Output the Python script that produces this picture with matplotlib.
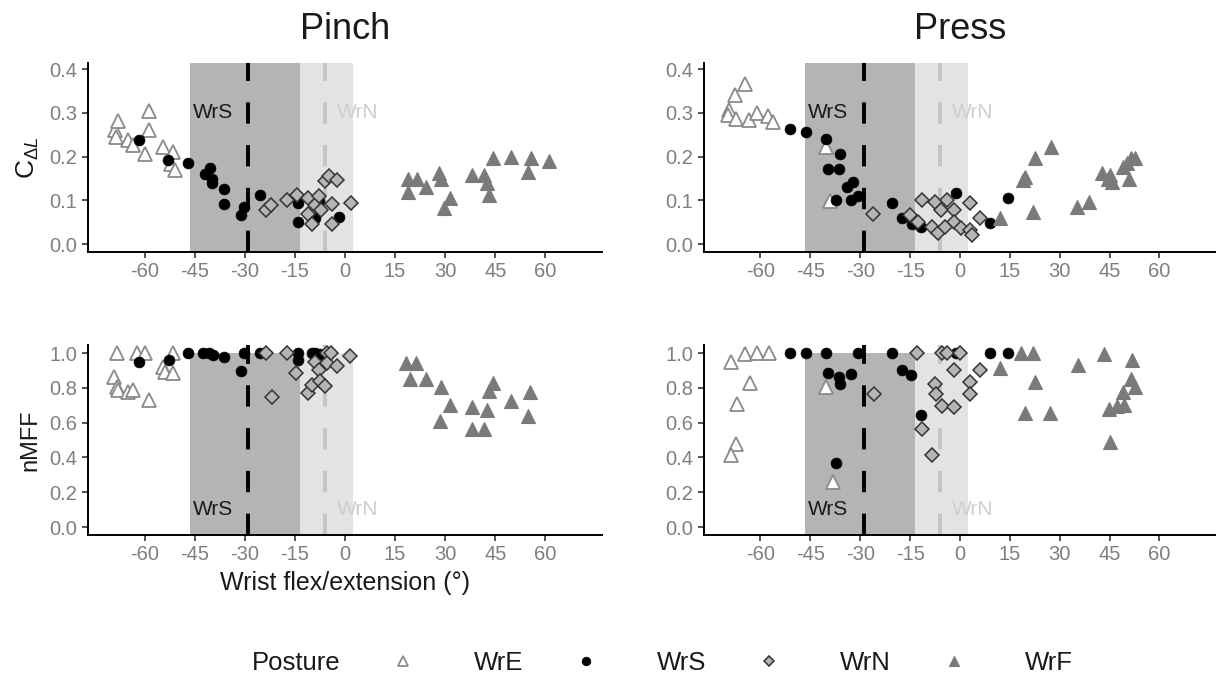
import matplotlib
matplotlib.use("Agg")
import matplotlib.pyplot as plt
from matplotlib.lines import Line2D

plt.rcParams['font.family'] = ['Liberation Sans', 'DejaVu Sans']
plt.rcParams['mathtext.fontset'] = 'custom'
plt.rcParams['mathtext.rm'] = 'Liberation Sans'
plt.rcParams['mathtext.it'] = 'Liberation Sans:italic'
plt.rcParams['axes.unicode_minus'] = False

# ---- data (wrist angle in deg, outcome value) ----
# Pinch, C_dL
pinch_cdl_wre_x = [-68.9, -68.0, -68.6, -64.9, -63.4, -59.9, -58.6, -58.6, -54.6, -51.5, -52.0, -51.0]
pinch_cdl_wre_y = [0.260, 0.282, 0.245, 0.239, 0.226, 0.206, 0.304, 0.260, 0.222, 0.211, 0.184, 0.169]
pinch_cdl_wrs_x = [-61.6, -53.0, -47.0, -41.9, -40.4, -39.8, -39.8, -36.3, -36.3, -31.3, -30.3, -25.6,
                   -14.2, -14.2, -8.9, -7.7, -1.8]
pinch_cdl_wrs_y = [0.237, 0.192, 0.186, 0.160, 0.173, 0.150, 0.139, 0.127, 0.092, 0.066, 0.085, 0.112,
                   0.093, 0.051, 0.059, 0.099, 0.061]
pinch_cdl_wrn_x = [-23.6, -22.1, -17.3, -14.5, -11.0, -11.0, -10.0, -9.1, -7.7, -7.1, -5.9, -4.7,
                   -3.9, -3.9, -2.4, 1.8]
pinch_cdl_wrn_y = [0.079, 0.089, 0.101, 0.112, 0.105, 0.070, 0.047, 0.089, 0.110, 0.078, 0.145, 0.156,
                   0.092, 0.047, 0.147, 0.095]
pinch_cdl_wrf_x = [18.9, 18.9, 21.6, 24.2, 28.3, 28.7, 29.5, 31.3, 38.1, 41.7, 42.5, 43.1, 44.3,
                   49.6, 55.8, 54.9, 61.0]
pinch_cdl_wrf_y = [0.150, 0.120, 0.150, 0.131, 0.162, 0.150, 0.082, 0.105, 0.158, 0.158, 0.139, 0.112,
                   0.196, 0.200, 0.196, 0.166, 0.189]

# Press, C_dL
press_cdl_wre_x = [-69.4, -69.7, -67.7, -64.7, -67.4, -63.4, -61.0, -57.7, -56.2, -40.2, -39.0]
press_cdl_wre_y = [0.306, 0.295, 0.341, 0.367, 0.287, 0.283, 0.299, 0.293, 0.280, 0.223, 0.099]
press_cdl_wrs_x = [-51.0, -46.4, -40.4, -36.1, -39.8, -36.3, -34.0, -32.3, -37.2, -32.9, -30.6, -20.5,
                   -17.3, -14.4, -11.8, -1.1, 9.0, 14.4]
press_cdl_wrs_y = [0.263, 0.257, 0.240, 0.206, 0.171, 0.171, 0.131, 0.143, 0.101, 0.101, 0.111, 0.095,
                   0.059, 0.047, 0.040, 0.116, 0.049, 0.105]
press_cdl_wrn_x = [-26.2, -15.0, -12.7, -11.3, -8.3, -7.5, -6.7, -5.8, -4.0, -1.7, -1.7, -4.6,
                   0.2, 2.9, 2.9, 3.5, 6.0]
press_cdl_wrn_y = [0.068, 0.066, 0.051, 0.101, 0.040, 0.097, 0.026, 0.078, 0.101, 0.079, 0.051, 0.040,
                   0.036, 0.093, 0.032, 0.021, 0.059]
press_cdl_wrf_x = [12.1, 19.0, 19.6, 21.9, 22.5, 27.5, 35.2, 38.7, 42.7, 44.4, 45.0, 45.6, 49.0,
                   50.2, 51.4, 52.5, 50.8]
press_cdl_wrf_y = [0.059, 0.147, 0.154, 0.074, 0.196, 0.223, 0.085, 0.097, 0.162, 0.150, 0.158, 0.143,
                   0.177, 0.185, 0.196, 0.196, 0.150]

# Pinch, nMFF
pinch_mff_wre_x = [-68.2, -62.4, -59.9, -51.6, -69.2, -68.2, -68.0, -64.9, -63.4, -58.6, -54.6, -53.9, -51.5]
pinch_mff_wre_y = [1.000, 1.000, 1.000, 1.000, 0.864, 0.803, 0.790, 0.778, 0.787, 0.730, 0.921, 0.893, 0.883]
pinch_mff_wrs_x = [-61.6, -52.7, -47.0, -42.5, -40.7, -39.5, -36.2, -31.3, -30.3, -25.6, -14.2, -14.2,
                   -10.0, -8.9, -7.4]
pinch_mff_wrs_y = [0.950, 0.960, 1.000, 1.000, 1.000, 0.987, 0.980, 0.897, 1.000, 1.000, 1.000, 0.962,
                   1.000, 1.000, 0.996]
pinch_mff_wrn_x = [-23.6, -21.8, -17.3, -14.7, -11.2, -10.0, -9.1, -7.7, -7.4, -5.9, -5.5, -5.3,
                   -4.1, -2.4, 1.5]
pinch_mff_wrn_y = [1.000, 0.748, 1.000, 0.885, 0.771, 0.815, 0.948, 0.905, 0.840, 0.809, 1.000, 0.943,
                   1.000, 0.924, 0.981]
pinch_mff_wrf_x = [18.3, 21.2, 19.5, 24.2, 28.9, 31.3, 28.4, 38.1, 38.1, 41.7, 42.5, 43.1, 44.3,
                   49.6, 55.5, 54.9]
pinch_mff_wrf_y = [0.943, 0.943, 0.853, 0.853, 0.802, 0.700, 0.611, 0.687, 0.561, 0.561, 0.672, 0.782,
                   0.828, 0.725, 0.777, 0.637]

# Press, nMFF
press_mff_wre_x = [-69.0, -64.6, -60.9, -57.5, -63.2, -67.2, -67.5, -69.0, -40.2, -38.3]
press_mff_wre_y = [0.948, 0.992, 1.000, 1.000, 0.828, 0.706, 0.477, 0.414, 0.805, 0.261]
press_mff_wrs_x = [-51.0, -46.4, -40.4, -39.8, -36.3, -36.0, -32.9, -30.6, -37.2, -20.5, -17.5, -14.8,
                   -11.8, -1.1, 9.0, 14.4]
press_mff_wrs_y = [1.000, 1.000, 1.000, 0.885, 0.863, 0.821, 0.878, 1.000, 0.370, 1.000, 0.905, 0.872,
                   0.643, 1.000, 1.000, 1.000]
press_mff_wrn_x = [-26.0, -13.0, -11.3, -8.3, -7.5, -7.1, -5.5, -5.5, -4.0, -1.7, -1.7, 0.0,
                   2.9, 2.9, 6.0]
press_mff_wrn_y = [0.767, 1.000, 0.561, 0.414, 0.824, 0.763, 1.000, 0.695, 1.000, 0.691, 0.905, 1.000,
                   0.834, 0.763, 0.905]
press_mff_wrf_x = [12.1, 18.5, 21.9, 22.5, 19.6, 27.1, 35.5, 43.3, 44.8, 45.0, 47.1, 49.4, 49.0,
                   51.4, 51.7, 52.5]
press_mff_wrf_y = [0.916, 1.000, 1.000, 0.834, 0.656, 0.656, 0.929, 0.992, 0.681, 0.490, 0.695, 0.700,
                   0.777, 0.853, 0.958, 0.805]

postures = ["WrE", "WrS", "WrN", "WrF"]

# reference bands (mean +/- sd of the neutral/self-selected postures)
wrs_band = (-46.5, -13.5)
wrn_band = (-13.5, 2.3)
wrs_mean = -29.0
wrn_mean = -6.0

styles = {
    "WrE": dict(marker="^", ms=9.5, mfc="white", mec="#8a8a8a", mew=1.3),
    "WrS": dict(marker="o", ms=7.8, mfc="black", mec="black", mew=0.5),
    "WrN": dict(marker="D", ms=6.8, mfc="#b5b5b5", mec="#333333", mew=1.1),
    "WrF": dict(marker="^", ms=9.5, mfc="#7a7a7a", mec="#7a7a7a", mew=0.8),
}

panels = [
    ([0.0724, 0.6283, 0.4227, 0.2788], "Pinch", "cdl",
     [(pinch_cdl_wre_x, pinch_cdl_wre_y), (pinch_cdl_wrs_x, pinch_cdl_wrs_y),
      (pinch_cdl_wrn_x, pinch_cdl_wrn_y), (pinch_cdl_wrf_x, pinch_cdl_wrf_y)]),
    ([0.5789, 0.6283, 0.4211, 0.2788], "Press", "cdl",
     [(press_cdl_wre_x, press_cdl_wre_y), (press_cdl_wrs_x, press_cdl_wrs_y),
      (press_cdl_wrn_x, press_cdl_wrn_y), (press_cdl_wrf_x, press_cdl_wrf_y)]),
    ([0.0724, 0.2109, 0.4227, 0.2802], None, "mff",
     [(pinch_mff_wre_x, pinch_mff_wre_y), (pinch_mff_wrs_x, pinch_mff_wrs_y),
      (pinch_mff_wrn_x, pinch_mff_wrn_y), (pinch_mff_wrf_x, pinch_mff_wrf_y)]),
    ([0.5789, 0.2109, 0.4211, 0.2802], None, "mff",
     [(press_mff_wre_x, press_mff_wre_y), (press_mff_wrs_x, press_mff_wrs_y),
      (press_mff_wrn_x, press_mff_wrn_y), (press_mff_wrf_x, press_mff_wrf_y)]),
]

fig = plt.figure(figsize=(12.16, 6.78), dpi=100)

for i, (rect, title, kind, series) in enumerate(panels):
    ax = fig.add_axes(rect)
    if kind == "cdl":
        ylo, yhi = -0.018, 0.414
        band_top = yhi
        ax.set_yticks([0.0, 0.1, 0.2, 0.3, 0.4])
        label_y = 0.3
    else:
        ylo, yhi = -0.046, 1.046
        band_top = 1.0
        ax.set_yticks([0.0, 0.2, 0.4, 0.6, 0.8, 1.0])
        label_y = 0.1
    ax.set_ylim(ylo, yhi)
    ax.set_xlim(-77, 77)
    ax.set_xticks([-60, -45, -30, -15, 0, 15, 30, 45, 60])
    ax.yaxis.set_major_formatter(plt.FormatStrFormatter("%.1f"))

    ax.fill_betweenx([ylo, band_top], *wrs_band, color="#b4b4b4", lw=0, zorder=0)
    ax.fill_betweenx([ylo, band_top], *wrn_band, color="#e3e3e3", lw=0, zorder=0)
    ax.axvline(wrs_mean, color="black", lw=2.8, dashes=(5.5, 5.5), zorder=1)
    ax.axvline(wrn_mean, color="#c4c4c4", lw=2.8, dashes=(5.5, 5.5), zorder=1)
    ax.text(wrs_band[0] + 0.8, label_y, "WrS", color="#1a1a1a", fontsize=15,
            ha="left", va="center", zorder=2)
    ax.text(wrn_mean + 3.5, label_y, "WrN", color="#cfcfcf", fontsize=15,
            ha="left", va="center", zorder=2)

    for name, (xs, ys) in zip(postures, series):
        ax.plot(xs, ys, ls="none", zorder=3, **styles[name])

    for side in ("top", "right"):
        ax.spines[side].set_visible(False)
    for side in ("left", "bottom"):
        ax.spines[side].set_linewidth(1.4)
    ax.tick_params(length=4.5, width=1.2, color="#333333", labelcolor="#7f7f7f",
                   labelsize=14.5, pad=3)

    if title:
        ax.set_title(title, fontsize=26, pad=17, color="#1a1a1a")
    if i == 0:
        ax.set_ylabel(r"C$_{\mathit{ΔL}}$", fontsize=19, color="#1a1a1a", labelpad=6)
    if i == 2:
        ax.set_ylabel("nMFF", fontsize=17, color="#1a1a1a", labelpad=6)
        ax.set_xlabel("Wrist flex/extension (°)", fontsize=18, color="#1a1a1a", labelpad=5)

# legend along the bottom
handles = [Line2D([], [], ls="none", marker="None")]
labels = ["Posture"]
for name in postures:
    st = dict(styles[name])
    st["ms"] = st["ms"] * 0.8
    handles.append(Line2D([], [], ls="none", **st))
    labels.append(name)
fig.legend(handles, labels, loc="center", bbox_to_anchor=(0.505, 0.022), ncol=5,
           frameon=False, fontsize=18.5, handlelength=2.0, handletextpad=1.75,
           columnspacing=1.45, labelcolor="#1a1a1a")

fig.savefig("out.png", dpi=100)
